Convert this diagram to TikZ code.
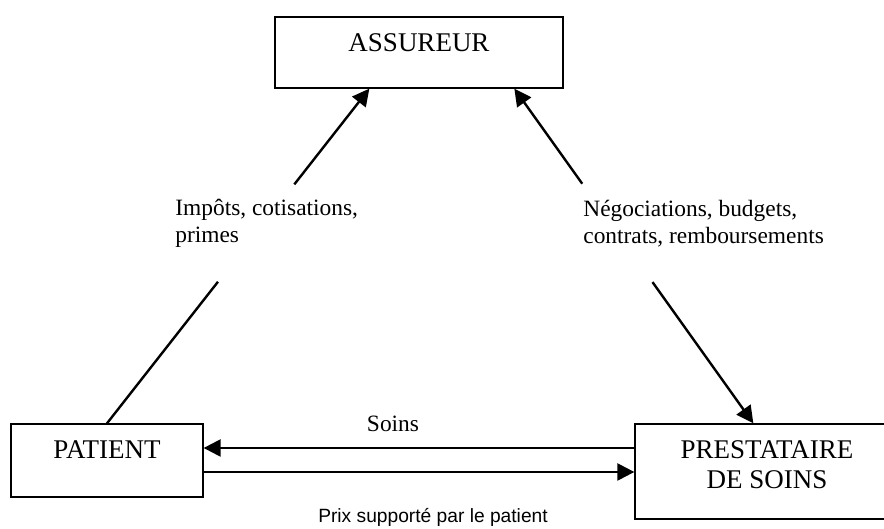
\documentclass[tikz,border=0pt]{standalone}
\usepackage{fontspec}
\setmainfont{Liberation Serif}
\newfontfamily\sansfont{Liberation Sans}
\usetikzlibrary{positioning,arrows.meta,calc}

\tikzset{
  box/.style={draw,line width=0.65pt,inner sep=0pt},
  boxtext/.style={inner sep=0pt,align=center,font=\fontsize{13.5}{15}\selectfont},
  lbl/.style={inner sep=0pt,align=left,font=\fontsize{11.7}{13.75}\selectfont},
  conn/.style={line width=1.2pt},
  flow/.style={conn,-{Triangle[length=8.5pt,width=8.5pt]}},
}

\begin{document}
\begin{tikzpicture}[x=0.5pt,y=0.5pt]
            \useasboundingbox (0,0) rectangle (884,529);
            \clip (0,0) rectangle (884,529);

            \node[box,minimum width=144pt,minimum height=35.5pt] (assureur) at (419,476.5) {};
            \node[box,minimum width=96pt,minimum height=36.5pt] (patient) at (107,68.5) {};
            \node[box,minimum width=132pt,minimum height=47.5pt] (prestataire) at (767,57.5) {};

            \node[boxtext,below=8.6pt of assureur.north] (assureurtxt) {ASSUREUR};
            \node[boxtext,below=8.6pt of patient.north] (patienttxt) {PATIENT};
            \node[boxtext,below=8.6pt of prestataire.north] (prestatairetxt) {PRESTATAIRE\\DE SOINS};

            \coordinate (a1) at ($(assureur.south west)+(95,0)$);
            \coordinate (a2) at ($(assureur.south west)+(240,0)$);
            \coordinate (p1) at ($(prestataire.north west)+(119,0)$);
            \coordinate (soinsy) at (0,81);
            \coordinate (prixy) at (0,57);

            % broken lines round the labels
            \path (patient.north) -- (a1) coordinate[pos=0.423] (l1) coordinate[pos=0.714] (l2);
            \path (a2) -- (p1) coordinate[pos=0.284] (r1) coordinate[pos=0.578] (r2);

            \draw[conn] (patient.north) -- (l1);
            \draw[flow] (l2) -- (a1);
            \draw[flow] (r1) -- (a2);
            \draw[flow] (r2) -- (p1);

            \draw[flow] (prestataire.west |- soinsy) -- (patient.east |- soinsy);
            \draw[flow] (patient.east |- prixy) -- (prestataire.west |- prixy);

            % base is the last line here
            \node[lbl,anchor=base west] (impots) at (175,286) {Impôts, cotisations,\\primes};
            \node[lbl,anchor=base west] (nego) at (583,285) {Négociations, budgets,\\contrats, remboursements};
            \node[lbl,anchor=base] (soins) at (393,97) {Soins};
            \node[lbl,anchor=base,font=\sansfont\fontsize{9.6}{13.5}\selectfont] (prix) at (433,6) {Prix supporté par le patient};
        \end{tikzpicture}
\end{document}
